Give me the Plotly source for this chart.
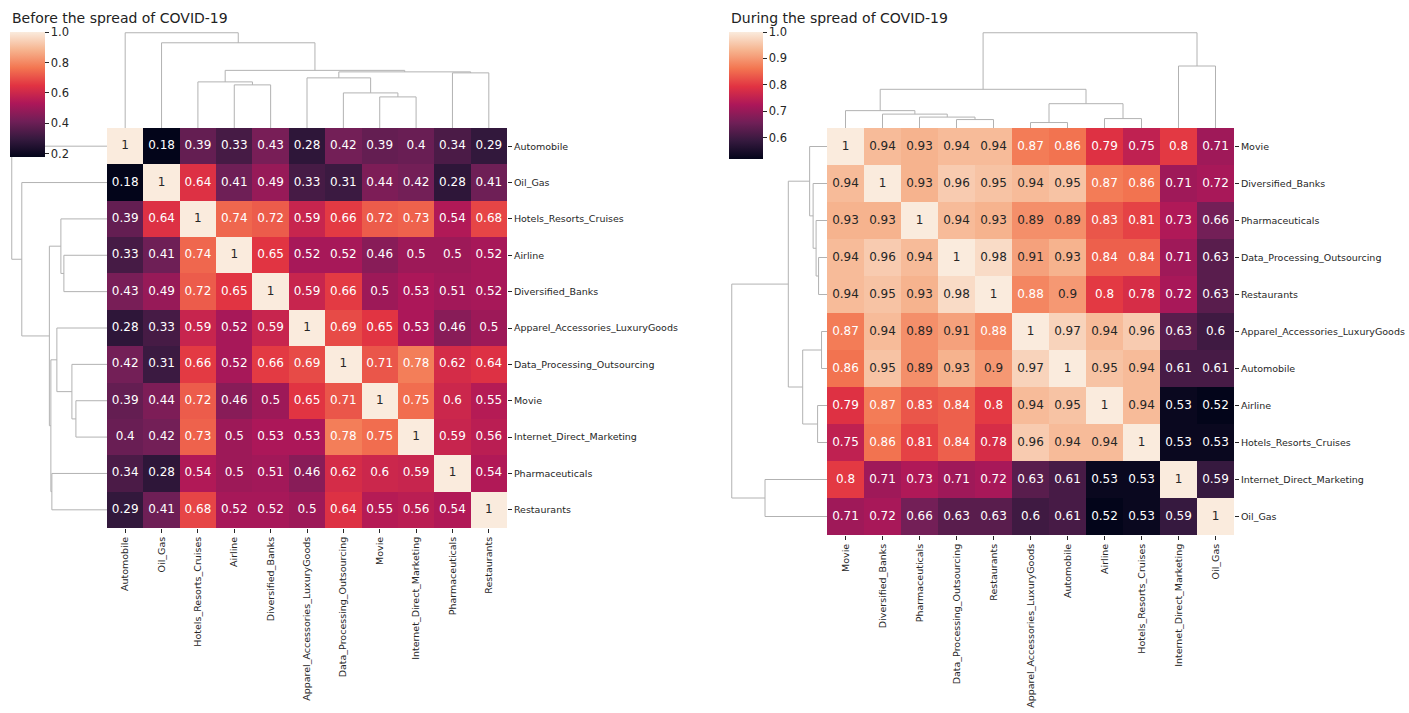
import plotly.graph_objects as go

W, H = 1409, 713

# ---------------- data ----------------
labels_before = ["Automobile", "Oil_Gas", "Hotels_Resorts_Cruises", "Airline", "Diversified_Banks",
                 "Apparel_Accessories_LuxuryGoods", "Data_Processing_Outsourcing", "Movie",
                 "Internet_Direct_Marketing", "Pharmaceuticals", "Restaurants"]
corr_before = [
    [1, 0.18, 0.39, 0.33, 0.43, 0.28, 0.42, 0.39, 0.4, 0.34, 0.29],
    [0.18, 1, 0.64, 0.41, 0.49, 0.33, 0.31, 0.44, 0.42, 0.28, 0.41],
    [0.39, 0.64, 1, 0.74, 0.72, 0.59, 0.66, 0.72, 0.73, 0.54, 0.68],
    [0.33, 0.41, 0.74, 1, 0.65, 0.52, 0.52, 0.46, 0.5, 0.5, 0.52],
    [0.43, 0.49, 0.72, 0.65, 1, 0.59, 0.66, 0.5, 0.53, 0.51, 0.52],
    [0.28, 0.33, 0.59, 0.52, 0.59, 1, 0.69, 0.65, 0.53, 0.46, 0.5],
    [0.42, 0.31, 0.66, 0.52, 0.66, 0.69, 1, 0.71, 0.78, 0.62, 0.64],
    [0.39, 0.44, 0.72, 0.46, 0.5, 0.65, 0.71, 1, 0.75, 0.6, 0.55],
    [0.4, 0.42, 0.73, 0.5, 0.53, 0.53, 0.78, 0.75, 1, 0.59, 0.56],
    [0.34, 0.28, 0.54, 0.5, 0.51, 0.46, 0.62, 0.6, 0.59, 1, 0.54],
    [0.29, 0.41, 0.68, 0.52, 0.52, 0.5, 0.64, 0.55, 0.56, 0.54, 1],
]

labels_during = ["Movie", "Diversified_Banks", "Pharmaceuticals", "Data_Processing_Outsourcing",
                 "Restaurants", "Apparel_Accessories_LuxuryGoods", "Automobile", "Airline",
                 "Hotels_Resorts_Cruises", "Internet_Direct_Marketing", "Oil_Gas"]
corr_during = [
    [1, 0.94, 0.93, 0.94, 0.94, 0.87, 0.86, 0.79, 0.75, 0.8, 0.71],
    [0.94, 1, 0.93, 0.96, 0.95, 0.94, 0.95, 0.87, 0.86, 0.71, 0.72],
    [0.93, 0.93, 1, 0.94, 0.93, 0.89, 0.89, 0.83, 0.81, 0.73, 0.66],
    [0.94, 0.96, 0.94, 1, 0.98, 0.91, 0.93, 0.84, 0.84, 0.71, 0.63],
    [0.94, 0.95, 0.93, 0.98, 1, 0.88, 0.9, 0.8, 0.78, 0.72, 0.63],
    [0.87, 0.94, 0.89, 0.91, 0.88, 1, 0.97, 0.94, 0.96, 0.63, 0.6],
    [0.86, 0.95, 0.89, 0.93, 0.9, 0.97, 1, 0.95, 0.94, 0.61, 0.61],
    [0.79, 0.87, 0.83, 0.84, 0.8, 0.94, 0.95, 1, 0.94, 0.53, 0.52],
    [0.75, 0.86, 0.81, 0.84, 0.78, 0.96, 0.94, 0.94, 1, 0.53, 0.53],
    [0.8, 0.71, 0.73, 0.71, 0.72, 0.63, 0.61, 0.53, 0.53, 1, 0.59],
    [0.71, 0.72, 0.66, 0.63, 0.63, 0.6, 0.61, 0.52, 0.53, 0.59, 1],
]

# dendrogram merges: (child_a, child_b, distance)
# children < 11 are leaves (display order), >= 11 refer to earlier merges
linkage_before = [(3, 4, 0.86), (2, 11, 0.92), (7, 8, 0.62), (6, 13, 0.70), (5, 14, 1.00),
                  (9, 10, 1.10), (15, 16, 1.12), (12, 17, 1.15), (1, 18, 1.70), (0, 19, 1.90)]
linkage_during = [(3, 4, 0.17), (2, 11, 0.22), (1, 12, 0.28), (0, 13, 0.35), (5, 6, 0.11),
                  (7, 8, 0.19), (15, 16, 0.49), (14, 17, 0.78), (9, 10, 1.25), (18, 19, 1.92)]

cbar_ticks_before = [0.2, 0.4, 0.6, 0.8, 1.0]
cbar_ticks_during = [0.6, 0.7, 0.8, 0.9, 1.0]

title_before = "Before the spread of COVID-19"
title_during = "During the spread of COVID-19"

# ---------------- style ----------------
FONT = "DejaVu Sans"
DARK = "#262626"
DENDRO_COLOR = "rgb(178,178,178)"
ROCKET = [(0.0, (3, 5, 26)), (1 / 7, (53, 25, 62)), (2 / 7, (112, 31, 87)), (3 / 7, (173, 23, 89)),
          (4 / 7, (225, 51, 66)), (5 / 7, (243, 118, 81)), (6 / 7, (246, 180, 143)), (1.0, (250, 235, 221))]
colorscale = [[p, "rgb(%d,%d,%d)" % c] for p, c in ROCKET]


def rocket_rgb(t):
    t = min(max(t, 0.0), 1.0)
    for (p0, c0), (p1, c1) in zip(ROCKET[:-1], ROCKET[1:]):
        if t <= p1:
            f = (t - p0) / (p1 - p0)
            return [c0[i] + f * (c1[i] - c0[i]) for i in range(3)]
    return list(ROCKET[-1][1])


def luminance(rgb):
    out = []
    for c in rgb:
        c = c / 255.0
        out.append(c / 12.92 if c <= 0.03928 else ((c + 0.055) / 1.055) ** 2.4)
    return 0.2126 * out[0] + 0.7152 * out[1] + 0.0722 * out[2]


def fx(p):
    return p / W


def fy(p):
    return 1 - p / H


def dendro_segments(linkage, n):
    pos = {i: float(i) for i in range(n)}
    hgt = {i: 0.0 for i in range(n)}
    xs, ys = [], []
    for k, (a, b, h) in enumerate(linkage):
        xs += [pos[a], pos[a], pos[b], pos[b], None]
        ys += [hgt[a], h, h, hgt[b], None]
        pos[n + k] = (pos[a] + pos[b]) / 2
        hgt[n + k] = h
    return xs, ys


fig = go.Figure()


def add_clustermap(idx, labels, corr, linkage, ticks, title, hm_box, cbar_box):
    # hm_box: (x0, x1, y0, y1) in pixels; cbar_box: (x0, y0, thickness, length)
    n = len(labels)
    zmin = min(min(r) for r in corr)
    zmax = max(max(r) for r in corr)
    ax = [str(3 * idx + k) if 3 * idx + k > 1 else "" for k in range(1, 4)]
    xa = ["x" + a for a in ax]
    ya = ["y" + a for a in ax]
    x0, x1, y0, y1 = hm_box
    D = 100  # dendrogram depth in pixels

    cx0, cy0, th, ln = cbar_box
    fig.add_trace(go.Heatmap(
        z=corr, x=list(range(n)), y=list(range(n)), zmin=zmin, zmax=zmax,
        colorscale=colorscale, xaxis=xa[0], yaxis=ya[0], hoverongaps=False,
        colorbar=dict(x=fx(cx0), xanchor="left", xpad=0, y=fy(cy0), yanchor="top", ypad=0,
                      len=ln, lenmode="pixels", thickness=th, thicknessmode="pixels",
                      outlinewidth=0, tickvals=ticks, ticktext=["%.1f" % v for v in ticks],
                      ticks="outside", ticklen=4, tickcolor=DARK,
                      tickfont=dict(family=FONT, size=11.5, color=DARK))))

    tx, ty, tt, tc = [], [], [], []
    for i in range(n):
        for j in range(n):
            v = corr[i][j]
            tx.append(j)
            ty.append(i)
            tt.append(format(v, ".2g"))
            lum = luminance(rocket_rgb((v - zmin) / (zmax - zmin)))
            tc.append(DARK if lum > 0.38 else "white")
    fig.add_trace(go.Scatter(x=tx, y=ty, text=tt, mode="text", xaxis=xa[0], yaxis=ya[0],
                             textfont=dict(family=FONT, size=12, color=tc), hoverinfo="skip"))

    dx, dy = dendro_segments(linkage, n)
    hmax = max(h for _, _, h in linkage) * 1.05
    fig.add_trace(go.Scatter(x=dx, y=dy, mode="lines", xaxis=xa[1], yaxis=ya[1],
                             line=dict(color=DENDRO_COLOR, width=1), hoverinfo="skip"))
    fig.add_trace(go.Scatter(x=dy, y=dx, mode="lines", xaxis=xa[2], yaxis=ya[2],
                             line=dict(color=DENDRO_COLOR, width=1), hoverinfo="skip"))

    tickstyle = dict(ticks="outside", ticklen=4, tickwidth=1, tickcolor=DARK,
                     tickfont=dict(family=FONT, size=9.5, color=DARK),
                     showgrid=False, zeroline=False, showline=False)
    lay = {}
    lay["xaxis" + ax[0]] = dict(domain=[fx(x0), fx(x1)], range=[-0.5, n - 0.5], anchor=ya[0],
                                tickvals=list(range(n)), ticktext=labels, tickangle=-90, **tickstyle)
    lay["yaxis" + ax[0]] = dict(domain=[fy(y1), fy(y0)], range=[n - 0.5, -0.5], anchor=xa[0],
                                side="right", tickvals=list(range(n)), ticktext=labels, **tickstyle)
    lay["xaxis" + ax[1]] = dict(domain=[fx(x0), fx(x1)], range=[-0.5, n - 0.5], anchor=ya[1], visible=False)
    lay["yaxis" + ax[1]] = dict(domain=[fy(y0), fy(y0 - D)], range=[0, hmax], anchor=xa[1], visible=False)
    lay["xaxis" + ax[2]] = dict(domain=[fx(x0 - D), fx(x0)], range=[hmax, 0], anchor=ya[2], visible=False)
    lay["yaxis" + ax[2]] = dict(domain=[fy(y1), fy(y0)], range=[n - 0.5, -0.5], anchor=xa[2], visible=False)
    fig.update_layout(**lay)

    fig.add_annotation(text=title, x=fx(cx0), y=fy(18), xref="paper", yref="paper",
                       xanchor="left", yanchor="middle", showarrow=False,
                       font=dict(family=FONT, size=14, color="#222222"))


add_clustermap(0, labels_before, corr_before, linkage_before, cbar_ticks_before, title_before,
               (107, 507, 128, 528), (10, 32, 35, 125))
add_clustermap(1, labels_during, corr_during, linkage_during, cbar_ticks_during, title_during,
               (827, 1234, 128, 535), (729, 32, 34, 127))

fig.update_layout(width=W, height=H, margin=dict(l=0, r=0, t=0, b=0), showlegend=False,
                  paper_bgcolor="white", plot_bgcolor="white", font=dict(family=FONT, color=DARK))

fig.write_html("out.html")
